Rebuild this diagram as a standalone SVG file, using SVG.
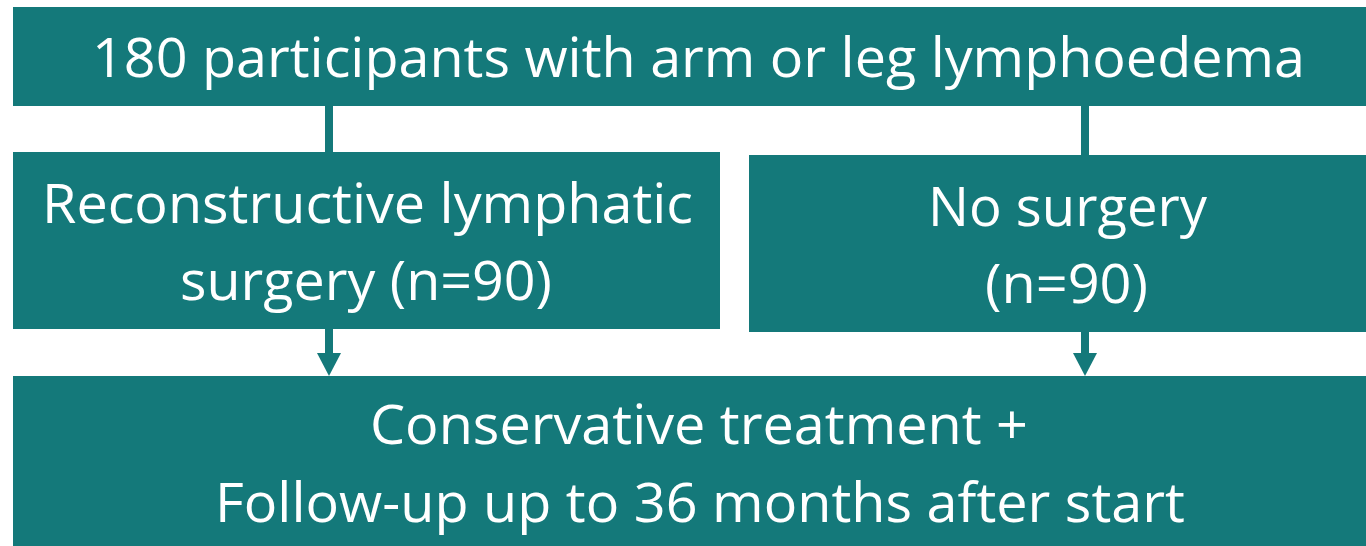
<svg xmlns="http://www.w3.org/2000/svg" width="1366" height="546" viewBox="0 0 1366 546">
<style>
.box{fill:#14797A;}
.t{font-family:"Open Sans","Noto Sans",sans-serif;font-size:55px;fill:#ffffff;}
.c{fill:#14797A;stroke:none;}
</style>
<rect width="1366" height="546" fill="#ffffff"/>
<g id="connectors">
<rect class="c" x="325" y="105" width="8" height="48"/>
<rect class="c" x="1081" y="105" width="8" height="51"/>
<rect class="c" x="325" y="328" width="8" height="26"/>
<polygon class="c" points="317,353 341,353 329,376"/>
<rect class="c" x="1081" y="331" width="8" height="23"/>
<polygon class="c" points="1073,353 1097,353 1085,376"/>
</g>
<g id="node-participants">
<rect class="box" x="13" y="7" width="1360" height="99"/>
<text class="t" x="92" y="77" textLength="1213" lengthAdjust="spacingAndGlyphs">180 participants with arm or leg lymphoedema</text>
</g>
<g id="node-surgery">
<rect class="box" x="13" y="152" width="707" height="177"/>
<text class="t" x="42" y="223" textLength="651" lengthAdjust="spacingAndGlyphs">Reconstructive lymphatic</text>
<text class="t" x="180" y="300" textLength="372" lengthAdjust="spacingAndGlyphs">surgery (n=90)</text>
</g>
<g id="node-nosurgery">
<rect class="box" x="749" y="155" width="630" height="177"/>
<text class="t" x="928" y="226" textLength="279" lengthAdjust="spacingAndGlyphs">No surgery</text>
<text class="t" x="985" y="303" textLength="163" lengthAdjust="spacingAndGlyphs">(n=90)</text>
</g>
<g id="node-conservative">
<rect class="box" x="13" y="376" width="1360" height="180"/>
<text class="t" x="370" y="444" textLength="658" lengthAdjust="spacingAndGlyphs">Conservative treatment +</text>
<text class="t" x="215" y="522" textLength="970" lengthAdjust="spacingAndGlyphs">Follow-up up to 36 months after start</text>
</g>
</svg>
